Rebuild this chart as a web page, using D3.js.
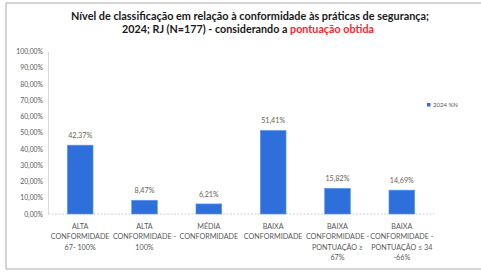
<!DOCTYPE html>
<html>
<head>
<meta charset="utf-8">
<script src="https://cdn.jsdelivr.net/npm/d3@7"></script>
<style>
  body { margin: 0; background: #fff; }
  svg { display: block; font-family: Lato, "Open Sans", sans-serif; }
</style>
</head>
<body>
<div id="chart"></div>
<script>
// chart data
const categories = ["ALTA CONFORMIDADE 67-100%", "ALTA CONFORMIDADE 100%", "MÉDIA CONFORMIDADE",
  "BAIXA CONFORMIDADE", "BAIXA CONFORMIDADE - PONTUAÇÃO ≥ 67%", "BAIXA CONFORMIDADE - PONTUAÇÃO ≤ 34 -66%"];
const labelLines = [
  ["ALTA", "CONFORMIDADE", "67- 100%"],
  ["ALTA", "CONFORMIDADE -", "100%"],
  ["MÉDIA", "CONFORMIDADE"],
  ["BAIXA", "CONFORMIDADE"],
  ["BAIXA", "CONFORMIDADE -", "PONTUAÇÃO ≥", "67%"],
  ["BAIXA", "CONFORMIDADE -", "PONTUAÇÃO ≤ 34", "-66%"]
];
const values = [0.4237, 0.0847, 0.0621, 0.5141, 0.1582, 0.1469];
const yTicks = [0, 0.1, 0.2, 0.3, 0.4, 0.5, 0.6, 0.7, 0.8, 0.9, 1];
const seriesName = "2024 %N";

const width = 481, height = 273;
const margin = {left: 48, right: 47, top: 51.5, bottom: 59};
const fmt = v => (v * 100).toFixed(2).replace(".", ",") + "%";

const svg = d3.select("#chart").append("svg")
  .attr("width", width)
  .attr("height", height);

// outer border of the chart area
svg.append("rect")
  .attr("x", 6).attr("y", 3)
  .attr("width", width + 10).attr("height", 266)
  .attr("fill", "#fff")
  .attr("stroke", "#c8c8c8")
  .attr("stroke-width", 1.5);

// title (two lines, second partly red)
const title = svg.append("text")
  .attr("text-anchor", "middle")
  .attr("font-weight", "bold")
  .attr("font-size", "10.5px")
  .attr("fill", "#1a1a1a");
title.append("tspan").attr("x", 250).attr("y", 20)
  .attr("textLength", 358).attr("lengthAdjust", "spacingAndGlyphs")
  .text("Nível de classificação em relação à conformidade às práticas de segurança;");
const t2 = title.append("tspan").attr("x", 248).attr("y", 33)
  .attr("textLength", 252).attr("lengthAdjust", "spacingAndGlyphs");
t2.append("tspan").text("2024; RJ (N=177) - considerando a ");
t2.append("tspan").attr("fill", "#ff1f2d").text("pontuação obtida");

// scales
const y = d3.scaleLinear()
  .domain([0, 1])
  .range([height - margin.bottom, margin.top]);

const x = d3.scaleBand()
  .domain(categories)
  .range([margin.left, width - margin.right])
  .paddingInner(0.6)
  .paddingOuter(0.3);

// y axis
const yAxis = svg.append("g")
  .attr("transform", `translate(${margin.left},0)`)
  .call(d3.axisLeft(y).tickValues(yTicks).tickFormat(fmt).tickSize(0).tickPadding(5));
yAxis.select(".domain").attr("stroke", "#d9d9d9");
yAxis.selectAll("text").attr("font-size", "6.8px").attr("fill", "#595959").attr("font-family", "Lato, sans-serif");

// x baseline
svg.append("line")
  .attr("x1", margin.left).attr("x2", width - margin.right)
  .attr("y1", y(0)).attr("y2", y(0))
  .attr("stroke", "#d0d0d0")
  .attr("stroke-dasharray", "2,1.5");

// bars
svg.selectAll(".bar")
  .data(values)
  .enter()
  .append("rect")
  .attr("class", "bar")
  .attr("x", (d, i) => x(categories[i]))
  .attr("y", d => y(d))
  .attr("width", x.bandwidth())
  .attr("height", d => y(0) - y(d))
  .attr("fill", "#2f6fdc")
  .attr("stroke", "#5b9bf0")
  .attr("stroke-width", 0.6);

// value labels
svg.selectAll(".val")
  .data(values)
  .enter()
  .append("text")
  .attr("class", "val")
  .attr("x", (d, i) => x(categories[i]) + x.bandwidth() / 2)
  .attr("y", d => y(d) - 7)
  .attr("text-anchor", "middle")
  .attr("font-size", "7.2px")
  .attr("fill", "#6b6450")
  .text(fmt);

// category labels
const cat = svg.selectAll(".cat")
  .data(labelLines)
  .enter()
  .append("text")
  .attr("class", "cat")
  .attr("text-anchor", "middle")
  .attr("font-size", "7.2px")
  .attr("fill", "#595959");
cat.each(function(lines, i) {
  const cx = x(categories[i]) + x.bandwidth() / 2;
  d3.select(this).selectAll("tspan")
    .data(lines)
    .enter()
    .append("tspan")
    .attr("x", cx)
    .attr("y", (d, j) => y(0) + 15 + j * 10.3)
    .text(d => d);
});

// legend
svg.append("rect")
  .attr("x", 427).attr("y", 103)
  .attr("width", 3.5).attr("height", 3.5)
  .attr("fill", "#2f6fdc");
svg.append("text")
  .attr("x", 433).attr("y", 107)
  .attr("font-size", "6px")
  .attr("fill", "#595959")
  .text(seriesName);
</script>
</body>
</html>
